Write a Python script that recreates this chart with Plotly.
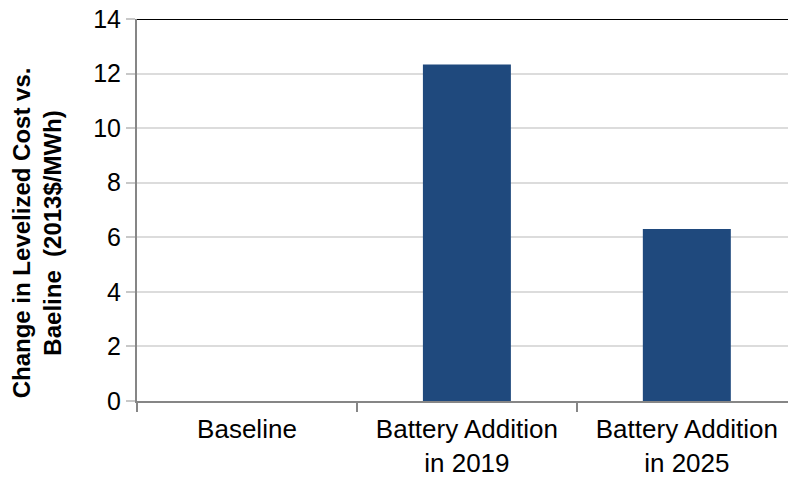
import plotly.graph_objects as go

# Scenario categories and the change in levelized cost (2013$/MWh)
categories = ["Baseline", "Battery Addition<br>in 2019", "Battery Addition<br>in 2025"]
cost_change = [0.0, 12.33, 6.30]
y_ticks = [0, 2, 4, 6, 8, 10, 12, 14]

FONT = "Liberation Sans, Arial, sans-serif"

fig = go.Figure(
    go.Bar(
        x=categories,
        y=cost_change,
        width=0.4,
        marker=dict(color="#1f497d", line=dict(width=0)),
    )
)

fig.update_layout(
    width=788,
    height=479,
    margin=dict(l=137, r=0, t=19, b=78),
    paper_bgcolor="white",
    plot_bgcolor="white",
    showlegend=False,
    font=dict(family=FONT, size=24, color="black"),
)

fig.update_xaxes(
    type="category",
    range=[-0.5, 2.46],
    automargin=False,
    showgrid=False,
    showline=True,
    linecolor="#868686",
    linewidth=2,
    ticks="outside",
    tickson="boundaries",
    ticklen=9,
    tickwidth=2,
    tickcolor="#868686",
    ticklabelstandoff=4,
    tickfont=dict(family=FONT, size=26, color="black"),
)

fig.update_yaxes(
    range=[0, 14],
    tickvals=y_ticks,
    automargin=False,
    showgrid=True,
    gridcolor="#dcdcdc",
    gridwidth=1.5,
    showline=True,
    linecolor="#868686",
    linewidth=2,
    ticks="outside",
    ticklen=9,
    tickwidth=2,
    tickcolor="#c8c8c8",
    zeroline=False,
    tickfont=dict(family=FONT, size=25, color="black"),
)

# Black rule along the top of the plotting area
fig.add_shape(
    type="line", xref="paper", yref="y",
    x0=0, x1=1, y0=14, y1=14,
    line=dict(color="black", width=2),
)

# Rotated y-axis title
fig.add_annotation(
    text="Change in Levelized Cost vs.<br>Baeline\u00a0\u00a0(2013$/MWh)",
    xref="paper", yref="paper",
    x=-100 / 651, y=0.439,
    xanchor="center", yanchor="middle",
    textangle=-90,
    showarrow=False,
    font=dict(family=FONT, size=24, color="black", weight="bold"),
)

fig.write_html("out.html")
